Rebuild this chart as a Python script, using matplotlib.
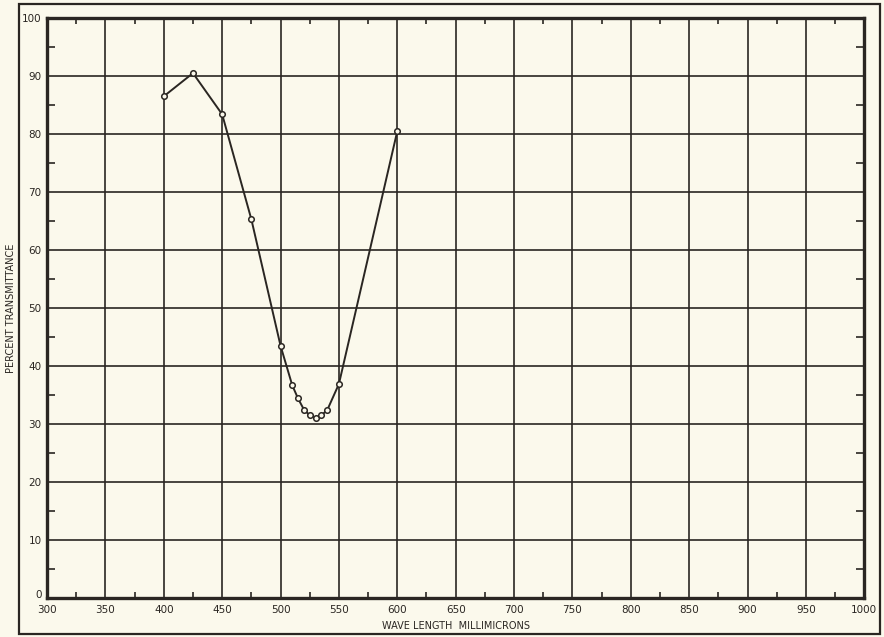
import matplotlib
matplotlib.use("Agg")
import matplotlib.pyplot as plt
import matplotlib.transforms as mtransforms
from matplotlib.patches import Rectangle

# data
wavelength = [400, 425, 450, 475, 500, 510, 515, 520, 525, 530, 535, 540, 550, 600]
transmittance = [86.5, 90.5, 83.4, 65.3, 43.5, 36.7, 34.4, 32.5, 31.5, 31.0, 31.5, 32.4, 36.9, 80.5]

x_ticks = list(range(300, 1001, 50))
y_ticks = list(range(0, 101, 10))

paper = "#fbf9ec"
ink = "#2a2622"

fig = plt.figure(figsize=(8.84, 6.37), dpi=100, facecolor=paper)
ax = fig.add_axes([0.0532, 0.0612, 0.9245, 0.9105], facecolor=paper)

# outer frame of the plate
fig.patches.append(Rectangle((0.021, 0.004), 0.974, 0.989, transform=fig.transFigure,
                             fill=False, edgecolor=ink, linewidth=1.6))

ax.plot(wavelength, transmittance, color=ink, linewidth=1.4, marker="o",
        markersize=4, markerfacecolor=paper, markeredgecolor=ink,
        markeredgewidth=1.1, zorder=3)

ax.set_xlim(300, 1000)
ax.set_ylim(0, 100)
ax.set_xticks(x_ticks)
ax.set_yticks(y_ticks)
ax.set_xticks(range(325, 1000, 50), minor=True)
ax.set_yticks(range(5, 100, 10), minor=True)

ax.grid(True, which="major", color=ink, linewidth=1.2)
ax.tick_params(which="major", length=0, labelsize=7.5, colors=ink)
ax.tick_params(axis="x", which="major", pad=5)
ax.tick_params(axis="y", which="major", pad=4)
ax.tick_params(which="minor", direction="in", length=6, width=1.2, colors=ink,
               left=True, right=True, bottom=True, top=True)
ax.tick_params(axis="x", which="minor", length=4)

# the "0" sits a little above the corner, clear of "300"
zero = ax.get_yticklabels()[0]
zero.set_transform(zero.get_transform() +
                   mtransforms.ScaledTranslation(0, 3 / 72, fig.dpi_scale_trans))

for s in ax.spines.values():
    s.set_linewidth(2.4)
    s.set_color(ink)

ax.set_xlabel("WAVE LENGTH  MILLIMICRONS", fontsize=7, color=ink, labelpad=4)
ax.set_ylabel("PERCENT TRANSMITTANCE", fontsize=7, color=ink, labelpad=4)

fig.savefig("out.png", dpi=100, facecolor=paper)
